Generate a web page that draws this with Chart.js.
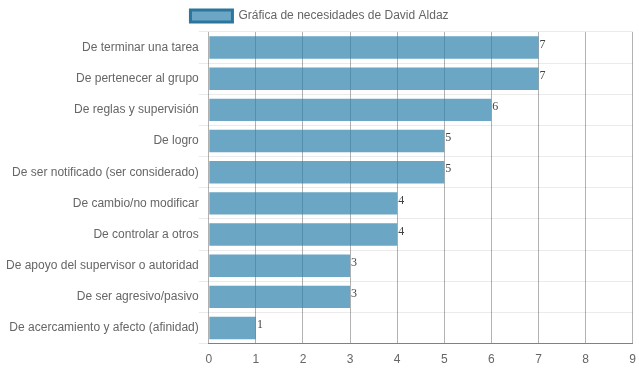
<!DOCTYPE html>
<html>
<head>
<meta charset="utf-8">
<script src="https://cdn.jsdelivr.net/npm/chart.js@4"></script>
<style>
  body { margin: 0; background: #fff; }
  #wrap { width: 639px; height: 372px; }
</style>
</head>
<body>
<div id="wrap"><canvas id="myChart"></canvas></div>
<script>
"use strict";

// data
const categories = [
  'De terminar una tarea',
  'De pertenecer al grupo',
  'De reglas y supervisión',
  'De logro',
  'De ser notificado (ser considerado)',
  'De cambio/no modificar',
  'De controlar a otros',
  'De apoyo del supervisor o autoridad',
  'De ser agresivo/pasivo',
  'De acercamiento y afecto (afinidad)'
];
const values = [7, 7, 6, 5, 5, 4, 4, 3, 3, 1];
const seriesName = 'Gráfica de necesidades de David Aldaz';
const xTicks = [0, 1, 2, 3, 4, 5, 6, 7, 8, 9];

Chart.defaults.font.family = '"Liberation Sans", Arial, sans-serif';
Chart.defaults.font.size = 12;
Chart.defaults.color = '#666';

// value labels at the end of each bar
const endLabels = {
  id: 'endLabels',
  afterDatasetsDraw(chart) {
    const ctx = chart.ctx;
    const meta = chart.getDatasetMeta(0);
    ctx.save();
    ctx.font = '12px "Liberation Serif", serif';
    ctx.fillStyle = '#444';
    ctx.textAlign = 'left';
    ctx.textBaseline = 'middle';
    meta.data.forEach((bar, i) => {
      ctx.fillText(values[i], bar.x + 1, bar.y - 3);
    });
    ctx.restore();
  }
};

const config = {
  type: 'bar',
  data: {
    labels: categories,
    datasets: [{
      label: seriesName,
      data: values,
      backgroundColor: 'rgba(44,128,172,0.7)',
      borderColor: 'rgba(44,118,158,1)',
      borderWidth: 0
    }]
  },
  options: {
    indexAxis: 'y',
    responsive: true,
    maintainAspectRatio: false,
    animation: false,
    layout: { padding: { left: 6, right: 6, top: 0, bottom: 2 } },
    scales: {
      x: {
        min: 0,
        max: 9,
        ticks: { stepSize: 1, color: '#666', padding: 3 },
        afterBuildTicks(axis) { axis.ticks = xTicks.map(v => ({ value: v })); },
        grid: { color: 'rgba(0,0,0,0.3)', tickLength: 6, drawTicks: true, tickColor: 'rgba(0,0,0,0)' },
        border: { color: 'rgba(0,0,0,0.45)' }
      },
      y: {
        ticks: { color: '#666', padding: 0 },
        grid: { color: 'rgba(0,0,0,0.08)', tickLength: 10 },
        border: { display: false }
      }
    },
    plugins: {
      legend: {
        display: true,
        labels: {
          boxWidth: 42,
          boxHeight: 12,
          color: '#666',
          padding: 10,
          generateLabels(chart) {
            const ds = chart.data.datasets[0];
            return [{
              text: ds.label,
              fillStyle: ds.backgroundColor,
              strokeStyle: ds.borderColor,
              lineWidth: 3,
              fontColor: '#666',
              datasetIndex: 0
            }];
          }
        }
      },
      tooltip: { enabled: false }
    }
  },
  plugins: [endLabels]
};

const my_chart = new Chart(document.getElementById('myChart'), config);
</script>
</body>
</html>
